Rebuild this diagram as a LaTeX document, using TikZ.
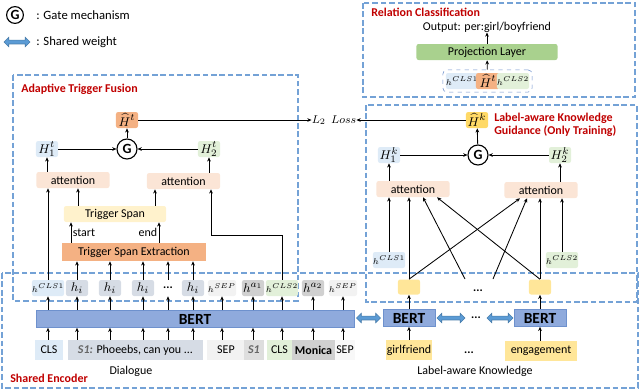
\documentclass[tikz,border=0pt]{standalone}
\usepackage{fontspec}
\setmainfont{Carlito}
\usepackage{amsmath}
\usepackage{tikz}
\usetikzlibrary{positioning, arrows.meta, shapes.arrows, fit}

\definecolor{dashblue}{RGB}{116,162,214}
\definecolor{titlered}{RGB}{192,0,0}
\definecolor{clsblue}{RGB}{222,235,247}
\definecolor{clsgreen}{RGB}{226,240,217}
\definecolor{hidgray}{RGB}{214,220,229}
\definecolor{sepgray}{RGB}{242,242,242}
\definecolor{agray}{RGB}{208,208,208}
\definecolor{attpeach}{RGB}{251,229,214}
\definecolor{spanyellow}{RGB}{255,242,204}
\definecolor{extorange}{RGB}{244,177,131}
\definecolor{knowyellow}{RGB}{255,230,153}
\definecolor{hatyellow}{RGB}{255,217,102}
\definecolor{bertblue}{RGB}{143,170,220}
\definecolor{bertedge}{RGB}{110,145,205}
\definecolor{projgreen}{RGB}{169,209,142}
\definecolor{sharedblue}{RGB}{91,155,213}

\begin{document}
\begin{tikzpicture}[x=0.025cm, y=-0.025cm,
    every node/.style={font=\fontsize{8.5}{10}\selectfont, inner sep=0pt},
    cell/.style={rectangle, rounded corners=1.5pt, minimum width=0.55cm, minimum height=0.4cm},
    small/.style={font=\fontsize{6}{7}\selectfont},
    big/.style={font=\fontsize{9.5}{11}\selectfont},
    attn/.style={cell, fill=attpeach, minimum width=1.825cm},
    bert/.style={rectangle, fill=bertblue, draw=bertedge, minimum height=0.425cm, font=\fontsize{11}{13}\selectfont\bfseries},
    word/.style={rectangle, minimum height=0.5cm},
    gate/.style={circle, draw, thick, minimum size=0.5cm, font=\fontsize{10}{12}\selectfont\bfseries},
    region/.style={draw=dashblue, line width=0.8pt, dash pattern=on 4pt off 2pt},
    title/.style={anchor=west, text=titlered, font=\fontsize{8.5}{9}\selectfont\bfseries},
    shared/.style={double arrow, draw=sharedblue!80!black, fill=sharedblue, inner sep=1.2pt, double arrow head extend=2pt, minimum width=0.22cm},
    arr/.style={-{Stealth[length=3pt,width=2.6pt]}, line width=0.6pt}]
  \useasboundingbox (0,0) rectangle (640,390);

  % legend
  \node[gate, minimum size=0.42cm] (gl) at (15,15) {G};
  \node[anchor=west, font=\fontsize{9}{11}\selectfont] (gtxt) at (36,15) {: Gate mechanism};
  \node[shared, minimum height=0.65cm] (sl) at (17,42) {};
  \node[anchor=west, font=\fontsize{9}{11}\selectfont] (stxt) at (36,42) {: Shared weight};

  % regions
  \draw[region] (363,3) rectangle (635,97);
  \draw[region] (13,75) rectangle (298,301);
  \draw[region] (366,105) rectangle (637,302);
  \draw[region] (2,273) rectangle (638,388);
  \node[title] at (371,12) {Relation Classification};
  \node[title] at (21,89) {Adaptive Trigger Fusion};
  \node[title, align=left, anchor=north west] at (494,113) {Label-aware Knowledge\\Guidance (Only Training)};
  \node[title] at (10,378) {Shared Encoder};

  % relation classification
  \node (out) at (487,27) {Output: per:girl/boyfriend};
  \node[cell, fill=projgreen, minimum width=3.525cm] (proj) at (487,52) {Projection Layer};
  \node[cell, fill=clsblue, small, minimum width=0.6cm] (rc1) at (462,81) {$h^{CLS1}$};
  \node[cell, fill=extorange, big, minimum width=0.6cm] (rch) at (488,81) {$\widehat{H}^t$};
  \node[cell, fill=clsgreen, small, minimum width=0.6cm] (rc2) at (513,81) {$h^{CLS2}$};
  \node[fit=(rc1)(rc2), draw=bertedge, dashed, rounded corners=3pt, inner sep=2pt] (grp) {};
  \draw[arr] (grp) -- (proj);
  \draw[arr] (proj) -- (out);

  % shared encoder
  \node[bert, minimum width=7.95cm] (bert) at (195,319) {BERT};
  \node[cell, fill=clsblue, small] (hc1) at (48,288) {$h^{CLS1}$};
  \foreach \x/\n in {77/1,110/2,143/3,193/4}
    \node[cell, fill=hidgray, big] (hi\n) at (\x,288) {$h_i$};
  \node[minimum height=0.4cm] (hdots) at (168,288) {\textbf{...}};
  \node[cell, fill=sepgray, small] (hs1) at (222,288) {$h^{SEP}$};
  \node[cell, fill=agray, big] (ha1) at (253,288) {$h^{a_1}$};
  \node[cell, fill=clsgreen, small] (hc2) at (282,288) {$h^{CLS2}$};
  \node[cell, fill=agray, big] (ha2) at (313,288) {$h^{a_2}$};
  \node[cell, fill=sepgray, small] (hs2) at (343,288) {$h^{SEP}$};

  \node[word, fill=clsblue, minimum width=0.675cm] (in1) at (49,350) {CLS};
  \node[word, fill=hidgray, minimum width=3.375cm] (dlg) at (135.5,350) {\textcolor{gray!80!black}{\bfseries\itshape S1:} Phoeebs, can you ...};
  \node[word, fill=sepgray, minimum width=0.95cm] (in3) at (226,350) {SEP};
  \node[word, fill=agray!70, minimum width=0.475cm] (in4) at (254,350) {\textcolor{gray!80!black}{\bfseries\itshape S1}};
  \node[word, fill=clsgreen, minimum width=0.625cm] (in5) at (279.5,350) {CLS};
  \node[word, fill=agray, minimum width=1.075cm, font=\fontsize{8.5}{10}\selectfont\bfseries] (in6) at (313.5,350) {Monica};
  \node[word, fill=sepgray!50, minimum width=0.5cm] (in7) at (345,350) {SEP};
  \node (dial) at (131,371) {Dialogue};

  \foreach \i/\h in {in1/hc1, in3/hs1, in4/ha1, in5/hc2, in6/ha2, in7/hs2} {
    \draw[arr] (\i.north -| \h) -- (bert.south -| \h);
    \draw[arr] (bert.north -| \h) -- (\h);
  }
  \foreach \h in {hi1,hi2,hi3,hdots,hi4} {
    \draw[arr] (dlg.north -| \h) -- (bert.south -| \h);
    \draw[arr] (bert.north -| \h) -- (\h);
  }

  % adaptive trigger fusion
  \node[cell, fill=extorange, rounded corners=0pt, minimum width=3.575cm, minimum height=0.45cm] (tse) at (134,252) {Trigger Span Extraction};
  \node[cell, fill=spanyellow, minimum width=2.55cm] (ts) at (115,214) {Trigger Span};
  \node[attn] (att1) at (73,180) {attention};
  \node[attn] (att2) at (183.5,181) {attention};
  \node[cell, fill=clsblue, big] (h1t) at (47,149) {$H^t_1$};
  \node[cell, fill=clsgreen, big] (h2t) at (209,149) {$H^t_2$};
  \node[gate] (gt) at (127,149) {G};
  \node[cell, fill=extorange, big] (hatt) at (127,120) {$\widehat{H}^t$};

  \foreach \h in {hi1,hi2,hi3,hdots,hi4}
    \draw[arr] (\h) -- (\h |- tse.south);
  \draw[arr] (tse.north -| 71,0) -- node[right=1pt] {start} (ts.south -| 71,0);
  \draw[arr] (tse.north -| 159,0) -- node[left=1pt] {end} (ts.south -| 159,0);
  \draw[arr] (ts.north -| 78,0) -- (att1.south -| 78,0);
  \draw[arr] (ts.north -| 155,0) -- (att2.south -| 155,0);
  \draw[arr] (hc1) -- (hc1 |- att1.south);
  \coordinate (bend) at (211,235);
  \draw[arr] (hc2) |- (bend) -- (bend |- att2.south);
  \draw[arr] (att1.north -| h1t) -- (h1t);
  \draw[arr] (att2.north -| h2t) -- (h2t);
  \draw[arr] (h1t) -- (gt);
  \draw[arr] (h2t) -- (gt);
  \draw[arr] (gt) -- (hatt);

  \node (loss) at (334,120) {$L_2\ \ Loss$};
  \draw[arr] (hatt) -- (loss);

  % label-aware knowledge guidance
  \node[cell, fill=hatyellow, big] (hatk) at (477,120) {$\widehat{H}^k$};
  \node[gate] (gk) at (478,155) {G};
  \node[cell, fill=clsblue, big] (h1k) at (389,155) {$H^k_1$};
  \node[cell, fill=clsgreen, big] (h2k) at (560,155) {$H^k_2$};
  \node[attn] (att3) at (413,189) {attention};
  \node[attn] (att4) at (541,190) {attention};
  \node[cell, fill=clsblue, small] (kc1) at (389,260) {$h^{CLS1}$};
  \node[cell, fill=clsgreen, small] (kc2) at (562,260) {$h^{CLS2}$};
  \node[cell, fill=knowyellow, minimum height=0.375cm] (k1) at (409,287) {};
  \node[cell, fill=knowyellow, minimum height=0.375cm] (k2) at (540,287) {};
  \node (kdots) at (478,291) {\textbf{...}};
  \coordinate (kd1) at (465,279);
  \coordinate (kd2) at (493,279);

  \draw[arr] (hatk) -- (loss);
  \draw[arr] (k1) -- (k1 |- att3.south);
  \draw[arr] (k1.north) -- (att4.south -| 520,0);
  \draw[arr] (kd1) -- (att3.south -| 423,0);
  \draw[arr] (kd2) -- (att4.south -| 527,0);
  \draw[arr] (k2.north) -- (att3.south -| 437,0);
  \draw[arr] (k2) -- (k2 |- att4.south);
  \draw[arr] (kc1) -- (kc1 |- att3.south);
  \draw[arr] (kc2) -- (kc2 |- att4.south);
  \draw[arr] (att3.north -| h1k) -- (h1k);
  \draw[arr] (att4.north -| h2k) -- (h2k);
  \draw[arr] (h1k) -- (gk);
  \draw[arr] (h2k) -- (gk);
  \draw[arr] (gk) -- (hatk);

  % knowledge encoders
  \node[bert, minimum width=1.3cm] (bert1) at (409,318) {BERT};
  \node[bert, minimum width=1.3cm] (bert2) at (540,318) {BERT};
  \node (bdots) at (476,318) {\textbf{...}};
  \node[shared, minimum height=0.6cm] (sw1) at (368.5,318) {};
  \node[shared, minimum height=0.7cm] (sw2) at (451,318) {};
  \node[shared, minimum height=0.65cm] (sw3) at (500,318) {};
  \node[word, fill=knowyellow, minimum width=1.15cm] (gf) at (409,350) {girlfriend};
  \node[word, fill=knowyellow, minimum width=1.8cm] (eng) at (541,351) {engagement};
  \node (wdots) at (469,353) {\textbf{...}};
  \node (lak) at (475,371) {Label-aware Knowledge};
  \draw[arr] (gf) -- (bert1);
  \draw[arr] (bert1) -- (k1);
  \draw[arr] (eng.north -| bert2) -- (bert2);
  \draw[arr] (bert2) -- (k2);
\end{tikzpicture}
\end{document}
